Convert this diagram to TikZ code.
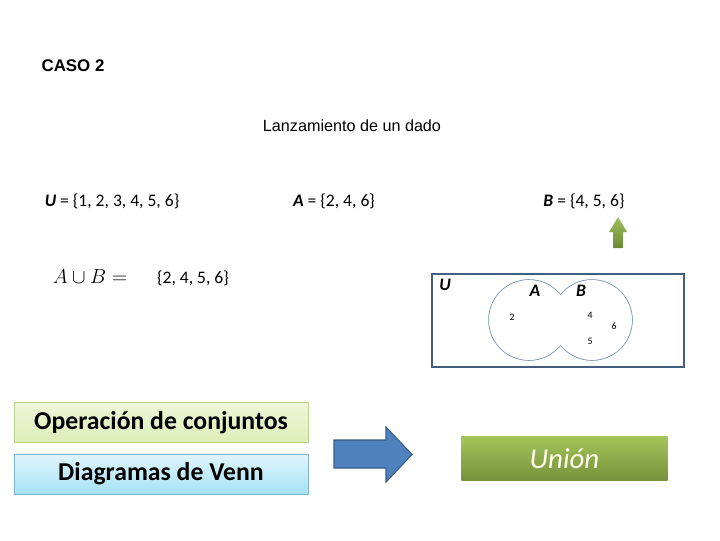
\documentclass[tikz,border=0pt]{standalone}
\usepackage{fontspec}
\setmainfont{Liberation Sans}
\newfontfamily\calibri{Carlito}
\usetikzlibrary{positioning}
\definecolor{venngray}{HTML}{435D7D}
\definecolor{vennline}{HTML}{6F8DB0}
\definecolor{optop}{HTML}{EEF7DA}
\definecolor{opbot}{HTML}{DCEEB8}
\definecolor{opedge}{HTML}{B9D38E}
\definecolor{diatop}{HTML}{E0F5FC}
\definecolor{diabot}{HTML}{A6E1F4}
\definecolor{diaedge}{HTML}{7FB6CF}
\definecolor{arrowblue}{HTML}{4F81BD}
\definecolor{arrowedge}{HTML}{385D8A}
\definecolor{uniontop}{HTML}{A4C45A}
\definecolor{unionbot}{HTML}{76923C}
\definecolor{uniontext}{HTML}{FFFFEC}
\definecolor{uparrowtop}{HTML}{9DBE5C}
\definecolor{uparrowbot}{HTML}{6A8A38}

\begin{document}
\begin{tikzpicture}[x=0.025cm,y=-0.025cm,
  title/.style={font=\fontsize{11.5}{13}\selectfont},
  setline/.style={font=\calibri\fontsize{12.5}{14}\selectfont},
  num/.style={font=\calibri\fontsize{7}{8}\selectfont,inner sep=1pt},
  setname/.style={font=\calibri\bfseries\itshape\fontsize{12.5}{14}\selectfont,inner sep=1pt},
  panel/.style={minimum width=7.35cm,minimum height=1.0cm,line width=0.6pt,font=\calibri\bfseries\fontsize{18.3}{21}\selectfont}
]
\useasboundingbox (0,0) rectangle (720,540);
% titulo
\node[title,font=\bfseries\fontsize{12}{14}\selectfont] (caso) at (73,66) {CASO 2};
\node[title] (lanz) at (352,126) {Lanzamiento de un dado};
% conjuntos
\node[setline] (setU) at (112,201) {\textbf{\textit{U}} = \{1, 2, 3, 4, 5, 6\}};
\node[setline] (setA) at (334,201) {\textbf{\textit{A}} = \{2, 4, 6\}};
\node[setline] (setB) at (584,201) {\textbf{\textit{B}} = \{4, 5, 6\}};
\node[font=\fontsize{14.5}{16}\selectfont] (oper) at (90,277) {$A\cup B =$};
\node[setline] (result) at (193,278) {\{2, 4, 5, 6\}};
% flecha verde
\shade[top color=uparrowtop,bottom color=uparrowbot]
  (613,248) -- (613,232) -- (609,232) -- (618,217) -- (627,232) -- (623,232) -- (623,248) -- cycle;
% diagrama de Venn
\draw[venngray,line width=2.1pt] (432,274) rectangle (684,367);
\draw[vennline,line width=1.1pt] (529,320) circle[radius=40] (592,320) circle[radius=40];
\fill[white] (529,320) circle[radius=40] (592,320) circle[radius=40];
\node[setname] (labU) at (445,285) {U};
\node[setname] (labA) at (535,291) {A};
\node[setname] (labB) at (581,291) {B};
\node[num] (n2) at (512,317) {2};
\node[num] (n4) at (590,315) {4};
\node[num] (n6) at (614,326) {6};
\node[num] (n5) at (590,341) {5};
% recuadros
\node[panel,draw=opedge,top color=optop,bottom color=opbot] (opbox) at (161,422.5) {Operación de conjuntos};
\node[panel,draw=diaedge,top color=diatop,bottom color=diabot] (diabox) at (161,474) {Diagramas de Venn};
\draw[arrowedge,fill=arrowblue,line width=0.8pt]
  (334,440) -- (386,440) -- (386,427) -- (412,454.5) -- (386,482) -- (386,468) -- (334,468) -- cycle;
\node[minimum width=5.15cm,minimum height=1.08cm,top color=uniontop,bottom color=unionbot,
  text=uniontext,font=\calibri\itshape\fontsize{20.5}{24}\selectfont] (union) at (564.5,458.5) {Unión};
\end{tikzpicture}
\end{document}
